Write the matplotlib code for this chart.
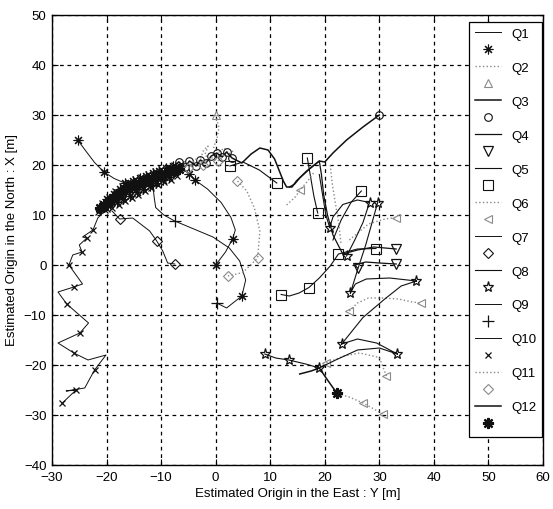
import numpy as np
import matplotlib
matplotlib.use("Agg")
import matplotlib.pyplot as plt
from matplotlib.lines import Line2D

plt.rcParams['font.family'] = ['Liberation Sans', 'DejaVu Sans']

nan = np.nan

# ---- estimated origin trajectories (East Y, North X) ----
# Q1 : asterisk, thin solid
q1_x = [-25.3, -23.8, -22.2, -20.5, -18.6, -16.7, -15.0, nan,
        -20.5, -19.9, -19.3, -18.7, -18.1, -17.5, -16.9, -16.3, -15.7, -15.1, -14.5,
        -13.9, -13.3, -12.7, -12.1, -11.5, -10.9, -10.3, -9.7, -9.1, -8.5, -7.9, nan,
        -4.8, -3.8, -1.5, 1.0, 2.8, 3.6, 3.1, 1.8, 0.0, nan,
        4.8]
q1_y = [25.0, 22.8, 20.5, 18.6, 17.3, 16.4, 16.8, nan,
        11.6, 13.2, 12.2, 14.2, 12.6, 15.2, 13.2, 16.0, 13.8, 16.8, 14.6,
        17.4, 15.2, 17.8, 15.8, 18.4, 16.4, 18.8, 17.0, 19.4, 17.6, 19.8, nan,
        18.2, 17.0, 15.2, 12.5, 9.5, 7.0, 5.2, 2.6, 0.0, nan,
        -6.2]
q1_marks = [0, 3, 5] + list(range(8, 30)) + [31, 32, 37, 39, 41]

# Q2 : up triangle, grey dotted
q2_x = [0.0, 0.6, 0.2, -0.4, 0.6, 1.6, 2.4, 3.2, nan,
        -3.0, -2.2, -1.4, -2.0, -1.0]
q2_y = [30.0, 27.5, 25.0, 23.6, 22.6, 23.4, 22.2, 22.8, nan,
        20.6, 23.0, 23.8, 22.0, 21.2]
q2_marks = [0]

# Q3 : circle, solid (arc from the far start back along the ridge)
q3_x = [30.0, 27.0, 24.0, 21.5, 20.0, 19.0, 16.7, 14.8, 14.0, 13.0, 12.4, 11.6,
        10.8, 9.6, 8.1, 6.5, 4.8, 3.0, 2.0, 1.2, 0.2, -0.8, -1.8, -2.8, -3.6,
        -4.8, -5.6, -6.8, -8.0]
q3_y = [30.0, 27.6, 25.0, 22.4, 20.6, 20.8, 18.8, 16.8, 15.6, 15.6, 16.8, 19.0,
        21.2, 23.0, 23.4, 22.2, 20.4, 21.4, 22.6, 21.6, 22.4, 21.8, 20.4, 21.0, 19.8,
        20.8, 19.6, 20.6, 19.0]
q3_marks = [0, 17, 18, 19, 20, 21, 22, 23, 24, 25, 26, 27, 28]

# Q4 : down triangle, solid
q4_x = [33.1, 29.0, 26.0, 23.3, 21.5, 20.5, 19.8, 19.4, 19.0, 17.5, 15.5, 14.5, 13.5, nan,
        33.1, 30.0, 27.5, 25.5, 26.0]
q4_y = [3.2, 3.6, 3.0, 2.2, 6.0, 10.0, 14.0, 18.0, 20.8, 19.5, 17.5, 16.2, 15.6, nan,
        0.2, 0.4, 0.6, 0.0, -0.6]
q4_marks = [0, 14, 18]

# Q5 : square, solid
q5_x = [12.0, 13.5, 15.3, 17.1, 19.0, 21.0, 22.5, 26.0, 29.4, nan,
        16.8, 17.4, 18.0, 18.7, nan,
        2.6, 5.0, 8.0, 11.2, nan,
        21.5, 23.0, 24.8, 26.7]
q5_y = [-5.9, -6.2, -5.6, -4.5, -2.6, -0.2, 2.2, 3.2, 3.3, nan,
        21.4, 17.6, 13.8, 10.4, nan,
        19.8, 20.6, 19.0, 16.4, nan,
        5.0, 9.0, 12.5, 14.8]
q5_marks = [0, 3, 6, 8, 10, 13, 15, 18, 23]

# Q6 : left triangle, grey dotted
q6_x = [24.5, 26.0, 28.0, 30.6, 33.5, 36.0, 37.7, nan,
        20.3, 23.5, 26.4, 30.0, 31.3, nan,
        22.4, 24.5, 27.0, 29.0, 30.6, nan,
        24.5, 28.0, 31.0, 33.1, nan,
        21.0, 21.4, 22.0, 22.6, 23.0, nan,
        13.0, 14.5, 15.5, 17.0, 18.0]
q6_y = [-9.2, -7.6, -6.6, -6.6, -6.8, -7.4, -7.6, nan,
        -19.6, -18.2, -17.6, -18.5, -22.2, nan,
        -25.8, -26.4, -27.6, -28.8, -29.8, nan,
        5.0, 8.2, 9.2, 9.5, nan,
        20.0, 16.0, 12.0, 8.0, 4.0, nan,
        12.0, 13.5, 15.0, 17.0, 18.5]
q6_marks = [0, 6, 8, 12, 16, 18, 23, 33]

# Q7 : diamond, solid
q7_x = [-19.0, -17.6, -15.2, -12.1, -10.8, -9.7, -8.8, -7.5]
q7_y = [10.8, 9.2, 9.4, 6.8, 4.8, 2.8, 0.4, 0.2]
q7_marks = [1, 4, 7]

# Q8 : pentagram, solid
q8_x = [9.0, 11.0, 13.4, 16.5, 19.0, 22.0, 26.0, 30.0, 33.3, nan,
        23.1, 26.0, 29.5, 33.3, nan,
        23.1, 27.0, 31.0, 34.0, 36.8, nan,
        24.7, 25.6, 27.6, 31.9, 36.8, nan,
        24.7, 26.0, 27.5, 28.8, 29.7, nan,
        20.9, 21.5, 23.3, 26.0, 28.2, nan,
        24.0, 25.5, 27.0, 28.2, nan,
        19.0, 19.6, 20.2, 20.9]
q8_y = [-17.8, -18.6, -19.0, -19.8, -20.6, -19.0, -17.0, -16.6, -17.8, nan,
        -15.8, -14.8, -15.6, -17.8, nan,
        -15.8, -10.5, -6.8, -4.2, -3.2, nan,
        -5.6, -3.8, -2.8, -2.6, -3.2, nan,
        -5.6, -1.0, 4.0, 9.0, 12.5, nan,
        7.5, 9.6, 12.1, 13.0, 12.5, nan,
        1.8, 5.0, 8.5, 12.5, nan,
        18.1, 14.0, 10.0, 7.5]
q8_marks = [0, 2, 4, 8, 10, 19, 21, 31, 33, 37, 39]

# Q9 : plus, solid
q9_x = [-11.5, -11.3, -11.0, -9.5, -7.5, -4.0, -0.5, 2.5, 4.4, 5.5, 4.8, 2.0, 0.2]
q9_y = [16.0, 13.8, 11.5, 10.0, 8.8, 7.2, 5.6, 3.4, 0.8, -3.0, -6.2, -8.6, -7.6]
q9_marks = [0, 4, 12]

# Q10 : cross, solid (zig-zag approach on the west side, then the ridge)
q10_x = [-28.1, -25.6, -27.4, -24.0, -22.2, -20.1, -23.4, -26.0, -28.9, -24.9, -23.3,
         -27.3, -28.9, -26.0, -24.4, -26.9, -26.2, -24.5, -25.0, -23.6, -24.4, -22.5,
         -21.6, -20.0, nan,
         -21.5, -20.8, -20.2, -19.6, -19.0, -18.4, -17.8, -17.2, -16.6, -16.0, -15.4,
         -14.8, -14.2, -13.6, -13.0, -12.4, -11.8, -11.2, -10.6, -10.0, -9.4, -8.8,
         -8.2, -7.6, -7.0, -6.4]
q10_y = [-27.6, -25.0, -25.2, -24.6, -21.0, -18.0, -19.0, -17.6, -15.6, -13.6, -11.6,
         -7.8, -5.4, -4.4, -3.8, 0.0, 2.0, 2.6, 4.0, 5.4, 5.6, 7.0,
         9.4, 11.2, nan,
         10.6, 12.4, 11.0, 13.6, 11.4, 14.8, 12.0, 15.8, 12.8, 16.6, 13.4,
         17.2, 14.0, 17.6, 14.8, 18.2, 15.4, 18.8, 16.0, 19.2, 16.6, 19.6,
         17.0, 20.0, 17.8, 20.2]
q10_marks = [0, 1, 4, 7, 9, 11, 13, 15, 17, 19, 21, 23] + list(range(25, 51))

# Q11 : diamond, grey dotted
q11_x = [4.0, 5.7, 7.1, 8.1, 7.7, 5.0, 2.2, nan,
         -5.0, -3.6, -2.4, -1.0, 0.4, 1.6]
q11_y = [16.8, 14.8, 11.4, 6.8, 1.4, -1.5, -2.2, nan,
         19.4, 21.2, 20.0, 21.6, 20.8, 22.0]
q11_marks = [0, 4, 6, 8, 10, 12]

# Q12 : asterisk, heavy solid (lower-right run plus the ridge)
q12_x = [15.4, 17.5, 19.0, 20.5, 22.2, nan,
         -21.2, -20.4, -19.6, -18.8, -18.0, -17.2, -16.4, -15.6, -14.8, -14.0,
         -13.2, -12.4, -11.6, -10.8, -10.0, -9.2, -8.4, -7.6, -6.8]
q12_y = [-21.8, -21.2, -20.6, -23.0, -25.6, nan,
         11.4, 12.0, 12.8, 13.4, 14.0, 14.6, 15.2, 15.6, 16.0, 16.4,
         16.6, 17.0, 17.4, 17.6, 18.0, 18.2, 18.6, 18.8, 19.2]
q12_marks = [4] + list(range(6, 25))

labels = ['Q1', 'Q2', 'Q3', 'Q4', 'Q5', 'Q6', 'Q7', 'Q8', 'Q9', 'Q10', 'Q11', 'Q12']

x_ticks = [-30, -20, -10, 0, 10, 20, 30, 40, 50, 60]
y_ticks = [-40, -30, -20, -10, 0, 10, 20, 30, 40, 50]

black = '#111111'
grey = '#8a8a8a'
asterisk = (8, 2, 0)

styles = [
    dict(color=black, ls='-', lw=0.7, marker=asterisk, ms=7, mew=0.8),
    dict(color=grey, ls=':', lw=1.0, marker='^', ms=6, mew=0.8),
    dict(color=black, ls='-', lw=1.1, marker='o', ms=5.5, mew=0.8),
    dict(color=black, ls='-', lw=0.9, marker='v', ms=7, mew=0.9),
    dict(color=black, ls='-', lw=0.8, marker='s', ms=7, mew=0.8),
    dict(color=grey, ls=':', lw=1.0, marker='<', ms=6, mew=0.8),
    dict(color=black, ls='-', lw=0.7, marker='D', ms=5, mew=0.8),
    dict(color=black, ls='-', lw=0.8, marker='*', ms=8, mew=0.9),
    dict(color=black, ls='-', lw=0.7, marker='+', ms=8, mew=0.9),
    dict(color=black, ls='-', lw=0.7, marker='x', ms=5, mew=0.9),
    dict(color=grey, ls=':', lw=1.0, marker='D', ms=5, mew=0.8),
    dict(color=black, ls='-', lw=1.1, marker=asterisk, ms=8, mew=1.6),
]

series = [
    (q1_x, q1_y, q1_marks), (q2_x, q2_y, q2_marks), (q3_x, q3_y, q3_marks),
    (q4_x, q4_y, q4_marks), (q5_x, q5_y, q5_marks), (q6_x, q6_y, q6_marks),
    (q7_x, q7_y, q7_marks), (q8_x, q8_y, q8_marks), (q9_x, q9_y, q9_marks),
    (q10_x, q10_y, q10_marks), (q11_x, q11_y, q11_marks), (q12_x, q12_y, q12_marks),
]

fig = plt.figure(figsize=(5.53, 5.09), dpi=100)
ax = fig.add_axes([52 / 553, 1 - 465 / 509, 491 / 553, 450 / 509])

for (xs, ys, marks), st in zip(series, styles):
    ax.plot(xs, ys, color=st['color'], ls=st['ls'], lw=st['lw'],
            marker=st['marker'], markevery=marks, ms=st['ms'], mew=st['mew'],
            mfc='none', mec=st['color'])

ax.set_xlim(-30, 60)
ax.set_ylim(-40, 50)
ax.set_xticks(x_ticks)
ax.set_yticks(y_ticks)
ax.tick_params(direction='in', top=True, right=True, labelsize=9.5, length=4, width=0.8)
ax.tick_params(axis='x', pad=5)
ax.tick_params(axis='y', pad=4)
ax.grid(True, color='black', ls=(0, (3, 3)), lw=0.9)
for sp in ax.spines.values():
    sp.set_linewidth(1.0)
    sp.set_color('black')

ax.set_xlabel('Estimated Origin in the East : Y [m]', fontsize=9.5, labelpad=3)
ax.set_ylabel('Estimated Origin in the North : X [m]', fontsize=9.5, labelpad=4)

# legend: a line entry labelled Qn followed by its marker entry
handles, names = [], []
for lab, st in zip(labels, styles):
    handles.append(Line2D([], [], color=st['color'], ls=st['ls'], lw=st['lw']))
    names.append(lab)
    handles.append(Line2D([], [], ls='none', marker=st['marker'], ms=st['ms'],
                          mew=st['mew'], mfc='none', mec=st['color']))
    names.append('')
leg = ax.legend(handles, names, loc='upper right',
                bbox_to_anchor=(1 - 1 / 491, 1 - 7 / 450), borderaxespad=0,
                fontsize=9.5, handlelength=2.0, handleheight=1.0, handletextpad=0.8,
                labelspacing=0.27, borderpad=0.4, fancybox=False, framealpha=1,
                edgecolor='black')
leg.get_frame().set_linewidth(0.9)

fig.savefig('out.png', dpi=100)
